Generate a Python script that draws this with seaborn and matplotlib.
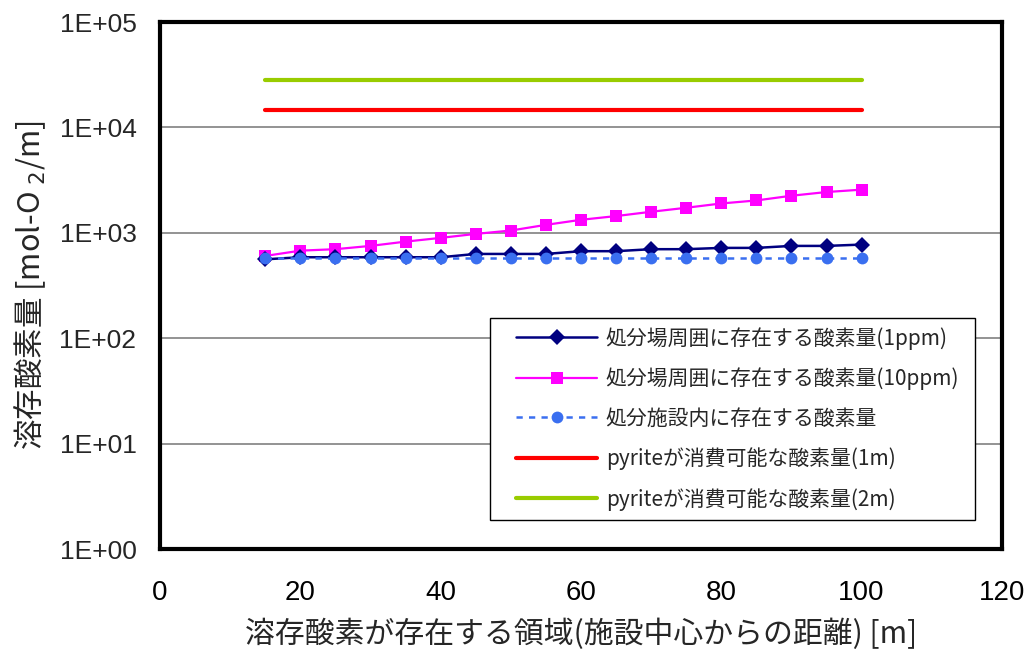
import numpy as np
import pandas as pd
import matplotlib
matplotlib.use("Agg")
import matplotlib.pyplot as plt
import seaborn as sns
from matplotlib.lines import Line2D
from matplotlib.offsetbox import DrawingArea

# Distance from the facility centre [m]
distance = [15, 20, 25, 30, 35, 40, 45, 50, 55, 60, 65, 70, 75, 80, 85, 90, 95, 100]

# Dissolved oxygen amounts [mol-O2/m]
around_1ppm = [561, 587, 587, 587, 587, 587, 631, 631, 631, 670, 670, 700, 700, 720, 720, 752, 752, 774]
around_10ppm = [604, 678, 700, 752, 826, 896, 978, 1052, 1191, 1330, 1443, 1585, 1730, 1900, 2030, 2250, 2440, 2570]
inside_facility = [580] * 18
pyrite_1m = [14500] * 18
pyrite_2m = [28000] * 18

labels = [
    "処分場周囲に存在する酸素量(1ppm)",
    "処分場周囲に存在する酸素量(10ppm)",
    "処分施設内に存在する酸素量",
    "pyriteが消費可能な酸素量(1m)",
    "pyriteが消費可能な酸素量(2m)",
]
xticks = [0, 20, 40, 60, 80, 100, 120]
yticks = [1, 10, 100, 1000, 10000, 100000]
ytick_labels = ["1E+00", "1E+01", "1E+02", "1E+03", "1E+04", "1E+05"]

sns.set_style("white")
plt.rcParams["font.family"] = ["Noto Sans CJK JP", "DejaVu Sans"]

df = pd.DataFrame({
    "x": distance * 5,
    "y": around_1ppm + around_10ppm + inside_facility + pyrite_1m + pyrite_2m,
    "series": [lab for lab in labels for _ in distance],
})

fig = plt.figure(figsize=(10.26, 6.49), dpi=100)
ax = fig.add_axes([0.156, 0.154, 0.8205, 0.812])

styles = {
    labels[0]: dict(color="#000080", marker="D", markersize=8, lw=1.8, ls="-"),
    labels[1]: dict(color="#FF00FF", marker="s", markersize=8, lw=1.6, ls="-"),
    labels[2]: dict(color="#3A6FF0", marker="o", markersize=8.5, lw=1.8, ls=(0, (2.5, 2.5))),
    labels[3]: dict(color="#FF0000", marker=None, lw=3, ls="-"),
    labels[4]: dict(color="#99CC00", marker=None, lw=3, ls="-"),
}

for lab in [labels[3], labels[4], labels[1], labels[0], labels[2]]:
    st = styles[lab]
    sub = df[df["series"] == lab]
    sns.lineplot(data=sub, x="x", y="y", ax=ax, color=st["color"], lw=st["lw"],
                 linestyle=st["ls"], marker=st["marker"],
                 markersize=st.get("markersize", 0), markeredgewidth=0,
                 legend=False, zorder=3)

handles = []
for lab in labels:
    st = styles[lab]
    handles.append(Line2D([], [], color=st["color"], lw=st["lw"], linestyle=st["ls"],
                          marker=st["marker"], markersize=st.get("markersize", 0),
                          markeredgewidth=0))

ax.set_yscale("log")
ax.set_xlim(0, 120)
ax.set_ylim(1, 100000)
ax.set_yticks(yticks)
ax.set_yticklabels(ytick_labels)
ax.yaxis.set_minor_locator(matplotlib.ticker.NullLocator())
ax.set_xticks(xticks)
ax.grid(axis="y", which="major", color="#808080", lw=1.2)
ax.grid(axis="x", visible=False)
ax.set_axisbelow(True)

for sp in ax.spines.values():
    sp.set_visible(True)
    sp.set_color("black")
    sp.set_linewidth(3)

ax.tick_params(axis="x", direction="in", length=7, width=1, colors="black",
               labelsize=20, pad=22)
ax.tick_params(axis="y", direction="in", length=0, labelsize=19, pad=17)
for t in ax.get_xticklabels() + ax.get_yticklabels():
    t.set_family(["Liberation Sans", "DejaVu Sans"])

ax.set_xlabel("溶存酸素が存在する領域(施設中心からの距離) [m]", fontsize=21.5, labelpad=9)
ax.set_ylabel("溶存酸素量 [mol-O $_{2}$/m]", fontsize=22, labelpad=8)

leg = ax.legend(handles, labels, loc="lower right", bbox_to_anchor=(0.968, 0.055),
                fontsize=15, frameon=True, fancybox=False, handlelength=3.9,
                borderpad=0.45, labelspacing=0.85, handletextpad=0.4,
                borderaxespad=0, columnspacing=0)
leg.get_frame().set_edgecolor("black")
leg.get_frame().set_linewidth(1)
leg.get_frame().set_alpha(1)

# wider horizontal margins inside the legend frame than vertical ones
hbox = leg._legend_handle_box
hbox._children.insert(0, DrawingArea(12.5, 0))
hbox._children.append(DrawingArea(4.5, 0))

fig.savefig("out.png", dpi=100)
